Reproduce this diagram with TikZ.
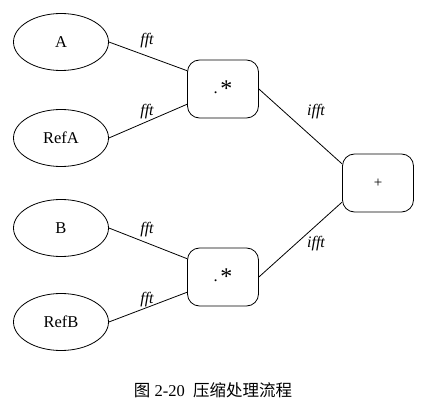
\documentclass[tikz,border=0pt]{standalone}
\usepackage{fontspec}
\setmainfont{Liberation Serif}
\newfontfamily\cjk{Noto Sans CJK SC}
\usetikzlibrary{shapes.geometric}

\begin{document}
\begin{tikzpicture}[x=1pt,y=1pt,line width=0.8pt,
  font=\fontsize{16.5}{19}\selectfont,
  every node/.append style={inner sep=0pt},
  inbox/.style={draw,ellipse,minimum width=95pt,minimum height=57pt},
  opbox/.style={draw,rounded corners=12pt,minimum width=71pt,minimum height=58pt},
  lbl/.style={font=\fontsize{16}{19}\selectfont\itshape}]
\useasboundingbox (0,0) rectangle (437,-409);
% inputs
\node [inbox] (A) at (61,-42) {A};
\node [inbox] (RefA) at (61,-138) {RefA};
\node [inbox] (B) at (61,-228) {B};
\node [inbox] (RefB) at (61,-322) {RefB};
% products and sum
\node [opbox] (mulA) at (223,-89) {.\,\raisebox{-0.45ex}{\fontsize{24}{24}\selectfont *}};
\node [opbox] (mulB) at (223,-277) {.\,\raisebox{-0.45ex}{\fontsize{24}{24}\selectfont *}};
\node [opbox] (sum) at (378,-183) {\fontsize{15}{15}\selectfont +};
% connectors
\draw (A.east) -- (mulA.153);
\draw (RefA.east) -- (mulA.203);
\draw (B.east) -- (mulB.153);
\draw (RefB.east) -- (mulB.203);
\draw (mulA.east) -- (sum.152);
\draw (mulB.east) -- (sum.208);
% labels
\node [lbl] (fftA) at (147,-41) {fft};
\node [lbl] (fftRefA) at (147,-112) {fft};
\node [lbl] (fftB) at (147,-230) {fft};
\node [lbl] (fftRefB) at (147,-300) {fft};
\node [lbl] (ifftA) at (316,-112) {ifft};
\node [lbl] (ifftB) at (316,-244) {ifft};
% caption
\node (cap) at (213,-390) {\fontsize{16.5}{19}\selectfont{\cjk 图} 2-20\ \ {\cjk 压缩处理流程}};
\end{tikzpicture}
\end{document}
